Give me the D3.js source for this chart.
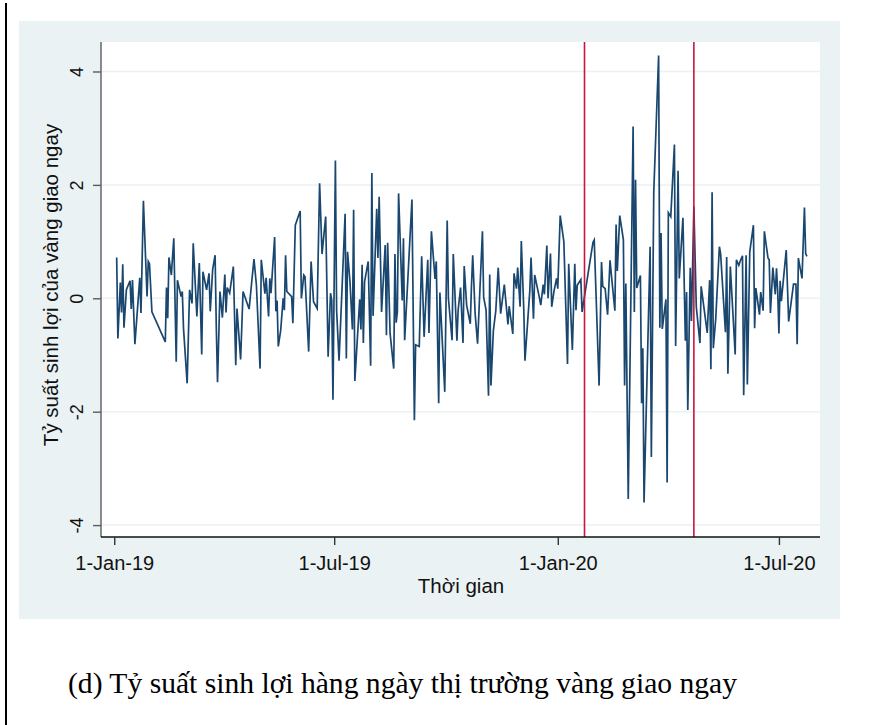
<!DOCTYPE html>
<html>
<head>
<meta charset="utf-8">
<script src="https://cdn.jsdelivr.net/npm/d3@7"></script>
<style>
  body { margin: 0; background: #fff; }
  svg { display: block; }
</style>
</head>
<body>
<div id="chart"></div>
<script>
// days since 1-Jan-2019 for each observation, and the daily return (%)
const baseDate = "2019-01-01";
const dayOffsets = [
  2,3,5,6,7,8,10,13,14,15,17,21,22,24,27,28,29,31,42,43,44,45,47,49,51,52,55,56,57,60,
  62,64,65,68,70,72,73,76,78,79,81,83,84,85,87,89,91,92,93,95,98,100,101,104,106,111,113,115,117,120,
  121,124,125,127,128,129,132,133,134,135,137,
  139,140,141,142,146,147,149,153,154,156,157,160,162,164,167,169,171,174,176,178,179,180,182,183,185,190,
  191,192,194,196,197,198,202,203,204,205,206,209,211,212,213,216,217,218,220,223,224,225,227,230,231,232,
  233,234,237,238,239,245,247,248,251,253,255,258,259,261,264,265,267,268,272,274,275,278,279,282,283,285,
  287,288,290,293,294,295,297,299,303,304,306,308,309,310,312,314,316,318,321,324,325,328,329,331,332,334,
  335,337,338,342,343,345,346,350,351,353,354,356,357,359,360,362,364,365,367,370,373,374,377,379,380,381,
  384,385,394,395,399,401,402,404,406,408,409,412,413,414,416,419,420,421,
  423,427,428,429,430,433,434,435,436,441,442,444,448,449,450,451,454,455,456,458,461,462,464,465,468,470,
  471,472,474,475,477,479,482,483,488,490,491,492,493,495,498,499,503,504,505,507,511,512,514,515,517,518,
  520,521,523,526,527,528,531,532,534,535,538,539,540,542,544,545,546,547,548,549,553,555,559,561,562,563,
  566,568,569,570
];
const returns = [
  0.72,-0.71,0.28,-0.25,0.6,-0.52,0.15,0.31,-0.19,0.32,-0.81,0.36,-0.26,1.72,0.03,0.65,0.61,-0.24,-0.77,0.19,-0.35,0.72,0.41,1.06,-1.12,0.32,0.03,0.12,-0.53,-1.5,
  0.15,-0.09,0.97,-0.32,0.62,-0.99,0.47,0.15,0.44,-0.23,0.51,0.76,-0.53,-1.48,0.12,-0.34,0.42,-0.25,0.19,0.09,0.56,-1.18,-0.18,-1.08,0.12,-0.19,0.26,0.69,0.23,-1.24,
  0.68,0.08,0.36,-0.32,0.35,0.09,1.08,-0.23,-0.04,-0.85,-0.56,
  0,-0.21,0.76,0.12,0.03,-0.44,1.29,1.54,0,0.41,0.38,-0.94,0.65,-0.06,-0.18,2.03,0.78,1.44,-1.03,0.09,-0.04,-1.79,2.43,-0.21,-1.1,1.49,
  -1.06,0.82,0.29,-0.55,1.56,-1.46,-0.02,-0.55,0.59,-0.79,0.29,0.65,-1.19,2.21,-0.31,1.58,0.71,1.79,-0.24,0.94,-0.65,0.98,-0.62,-1.24,0.78,-0.43,
  -0.24,1.85,-0.04,1.06,-0.74,1.74,-2.15,-0.82,-0.85,0.74,-0.68,0.68,-0.61,1.18,0.34,0.65,-1.85,0.1,-1.65,1.37,0,-0.74,0.78,-0.75,-0.21,0.19,
  -0.79,0.57,-0.12,-0.45,0.23,0.76,-0.27,-0.8,1.18,0.02,-0.21,-1.72,0.42,-1.54,-0.57,-0.22,0.54,-0.27,0.24,-0.46,-0.14,-0.63,0.44,0.17,0.54,-0.15,
  1.01,-0.18,-1.1,0.14,0.72,-0.36,0.41,0,-0.12,0.24,0.07,0.93,0,0.79,-0.15,0.14,0.35,0.17,1.46,1.0,-1.16,0.61,-0.91,0.61,-0.21,0.23,
  0.33,-0.24,0.99,1.03,-1.54,0.64,0.21,0.17,-0.29,0.67,0.44,-0.22,1.3,0.48,1.46,1.03,-1.54,0.26,
  -3.54,3.03,-0.24,2.09,0.18,0.4,-1.85,-0.88,-3.6,0.91,-2.8,1.88,4.28,-0.52,1.15,-0.54,-0.02,-3.25,1.51,1.44,2.71,-0.84,2.25,0.35,1.42,-0.75,
  0.11,-1.97,0.54,-0.4,1.62,-0.15,-0.79,0.21,-0.61,0.32,-1.25,1.87,-0.88,-0.36,0.91,0.79,-0.6,0.73,-1.33,0.56,-0.99,0.68,0.58,0.65,0.75,-1.71,
  0.76,-1.52,0.82,1.29,-0.53,0.18,-0.29,0.11,-0.22,1.18,0.71,0.68,-0.26,0.54,0.07,0.53,0.12,-0.62,0.31,-0.05,0.85,-0.41,0.25,0.25,-0.81,0.71,
  0.35,1.6,0.79,0.74
];
const eventDates = ["2020-01-23", "2020-04-22"];
const xTickDates = ["2019-01-01", "2019-07-01", "2020-01-01", "2020-07-01"];
const yTicks = [-4, -2, 0, 2, 4];
const yTitle = "Tỷ suất sinh lợi của vàng giao ngay";
const xTitle = "Thời gian";
const caption = "(d) Tỷ suất sinh lợi hàng ngày thị trường vàng giao ngay";

const W = 880, H = 725;
const plot = {left: 101, right: 820, top: 42, bottom: 537};
const parse = d3.utcParse("%Y-%m-%d");
const base = parse(baseDate);
const dayMs = 864e5;

const data = dayOffsets.map((d, i) => ({date: d3.utcDay.offset(base, d), value: returns[i]}));

const svg = d3.select("#chart").append("svg")
  .attr("width", W).attr("height", H)
  .style("font-family", "'Liberation Sans', Arial, sans-serif");

// left border of the page
svg.append("line")
  .attr("x1", 6).attr("x2", 6).attr("y1", 3).attr("y2", H)
  .attr("stroke", "#000").attr("stroke-width", 2);

// stata graph region
svg.append("rect")
  .attr("x", 19).attr("y", 21).attr("width", 821).attr("height", 598)
  .attr("fill", "#eaf2f3");
svg.append("rect")
  .attr("x", plot.left).attr("y", plot.top)
  .attr("width", plot.right - plot.left).attr("height", plot.bottom - plot.top)
  .attr("fill", "#fff");

const x = d3.scaleUtc()
  .domain([new Date(+base - 10.9 * dayMs), new Date(+base + 580.8 * dayMs)])
  .range([plot.left, plot.right]);

const y = d3.scaleLinear()
  .domain([-4.21, 4.52])
  .range([plot.bottom, plot.top]);

// grid
svg.append("g")
  .selectAll("line")
  .data(yTicks)
  .join("line")
  .attr("x1", plot.left).attr("x2", plot.right)
  .attr("y1", d => y(d)).attr("y2", d => y(d))
  .attr("stroke", "#eaf2f3").attr("stroke-width", 1.5);

// series
const line = d3.line()
  .x(d => x(d.date))
  .y(d => y(d.value));

svg.append("path")
  .datum(data)
  .attr("fill", "none")
  .attr("stroke", "#1a476f")
  .attr("stroke-width", 1.7)
  .attr("stroke-linejoin", "miter")
  .attr("d", line);

// event lines
svg.append("g")
  .selectAll("line")
  .data(eventDates.map(parse))
  .join("line")
  .attr("x1", d => x(d)).attr("x2", d => x(d))
  .attr("y1", plot.top).attr("y2", plot.bottom)
  .attr("stroke", "#c8163f").attr("stroke-width", 1.6);

// y axis
const yAxis = d3.axisLeft(y)
  .tickValues(yTicks)
  .tickSize(8)
  .tickSizeOuter(0)
  .tickFormat(d => String(d));

const gy = svg.append("g")
  .attr("transform", `translate(${plot.left},0)`)
  .call(yAxis);
gy.select(".domain").attr("stroke", "#5c5c5c").attr("stroke-width", 1.4)
  .attr("d", `M0,${plot.top}V${plot.bottom}`);
gy.selectAll(".tick line").attr("stroke", "#5c5c5c").attr("stroke-width", 1.4);
gy.selectAll(".tick text")
  .attr("transform", "rotate(-90)")
  .attr("x", 0).attr("y", -18).attr("dy", 0)
  .attr("text-anchor", "middle")
  .attr("font-size", 18)
  .attr("fill", "#111");

// x axis
const xAxis = d3.axisBottom(x)
  .tickValues(xTickDates.map(parse))
  .tickSize(8)
  .tickSizeOuter(0)
  .tickFormat(d3.utcFormat("%-d-%b-%y"));

const gx = svg.append("g")
  .attr("transform", `translate(0,${plot.bottom})`)
  .call(xAxis);
gx.select(".domain").attr("stroke", "#111").attr("stroke-width", 1.4)
  .attr("d", `M${plot.left},0H${plot.right}`);
gx.selectAll(".tick line").attr("stroke", "#333").attr("stroke-width", 1.4);
gx.selectAll(".tick text")
  .attr("y", 33).attr("dy", 0)
  .attr("font-size", 20)
  .attr("fill", "#111");

// titles
svg.append("text")
  .attr("transform", `translate(58,285) rotate(-90)`)
  .attr("text-anchor", "middle")
  .attr("font-size", 20.5)
  .attr("fill", "#111")
  .text(yTitle);

svg.append("text")
  .attr("x", 461).attr("y", 593)
  .attr("text-anchor", "middle")
  .attr("font-size", 20.5)
  .attr("fill", "#111")
  .text(xTitle);

// caption under the figure
svg.append("text")
  .attr("x", 68).attr("y", 693)
  .attr("font-family", "'Liberation Serif', 'Times New Roman', serif")
  .attr("font-size", 29)
  .attr("textLength", 669)
  .attr("lengthAdjust", "spacingAndGlyphs")
  .attr("fill", "#000")
  .text(caption);
</script>
</body>
</html>
